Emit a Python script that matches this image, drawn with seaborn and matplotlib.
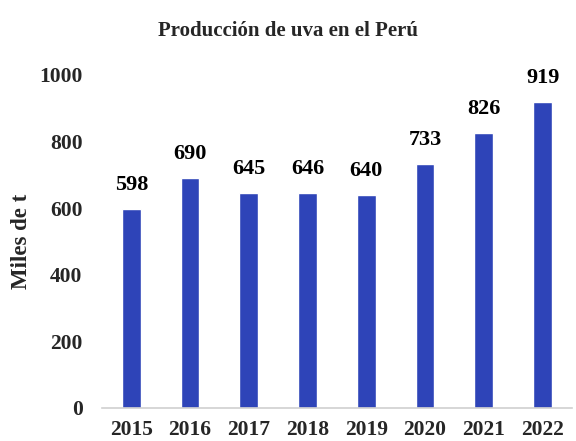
import pandas as pd
import matplotlib.pyplot as plt
import seaborn as sns

# datos
years = ['2015', '2016', '2017', '2018', '2019', '2020', '2021', '2022']
produccion = [598, 690, 645, 646, 640, 733, 826, 919]

df = pd.DataFrame({'Año': years, 'Produccion': produccion})

sns.set_theme(style="white")
plt.rcParams['font.family'] = ['Liberation Serif', 'DejaVu Serif']
plt.rcParams['font.weight'] = 'bold'

fig = plt.figure(figsize=(5.76, 4.41), dpi=100)
ax = fig.add_axes([0.177, 0.075, 0.816, 0.755])

sns.barplot(data=df, x='Año', y='Produccion', color='#2E44B8', width=0.32,
            saturation=1, ax=ax)

for i, v in enumerate(produccion):
    ax.text(i, v + 42, str(v), ha='center', va='bottom',
            fontsize=16, fontweight='bold', color='black')

ax.set_ylim(0, 1000)
ax.set_yticks(range(0, 1001, 200))
ax.set_xlim(-0.5, len(years) - 0.5)
ax.set_xlabel('')
ax.set_ylabel('Miles de t', fontsize=16.5, fontweight='bold', labelpad=5)
ax.tick_params(axis='both', labelsize=15.5, length=0)
ax.tick_params(axis='x', pad=9)
ax.tick_params(axis='y', pad=14)
for lbl in ax.get_xticklabels() + ax.get_yticklabels():
    lbl.set_fontweight('bold')

for s in ['top', 'right', 'left']:
    ax.spines[s].set_visible(False)
ax.spines['bottom'].set_color('#D0D0D0')
ax.spines['bottom'].set_linewidth(1.2)

fig.suptitle('Producción de uva en el Perú', fontsize=15, fontweight='bold',
             y=0.952, x=0.5)

fig.savefig('out.png', dpi=100)
